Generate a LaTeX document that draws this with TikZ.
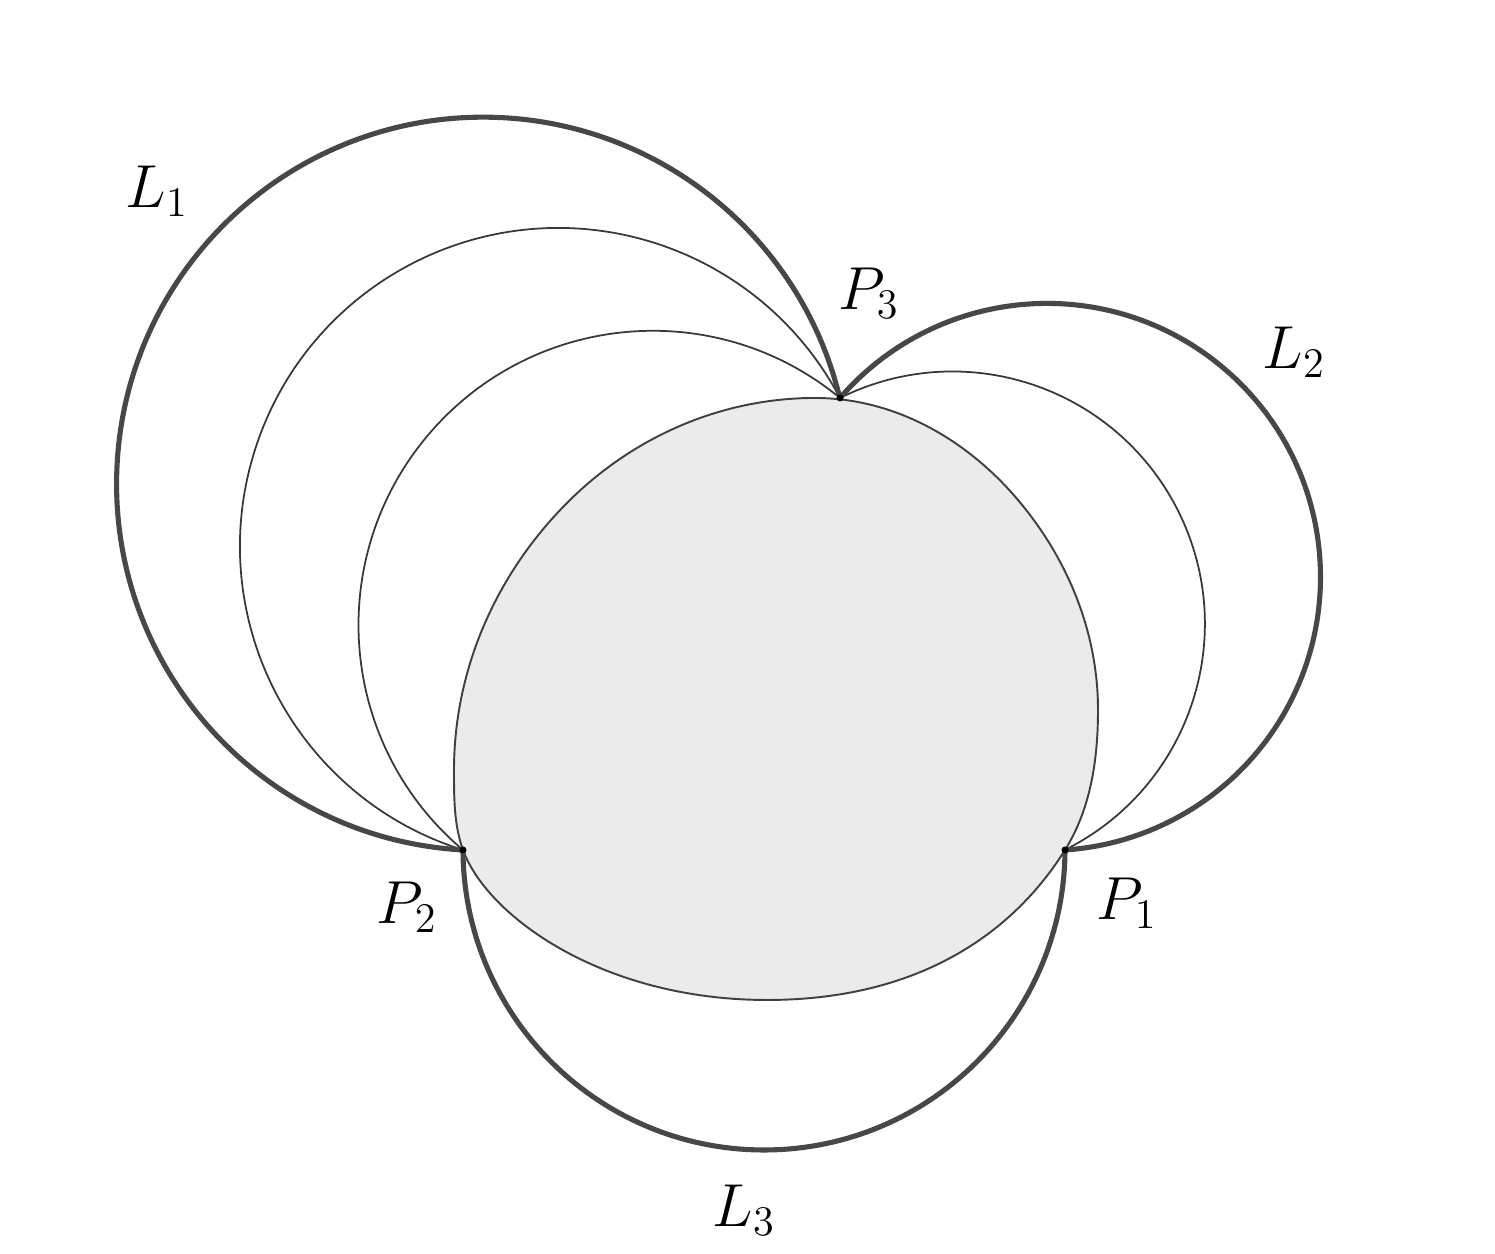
\documentclass[tikz,border=0pt]{standalone}
\begin{document}
\begin{tikzpicture}[
  thickarc/.style={line width=1.45pt, draw=black!72},
  thinarc/.style={line width=0.5pt, draw=black!78},
  disk/.style={fill=black!8, draw=black!75, line width=0.55pt},
  lbl/.style={inner sep=0pt, font=\fontsize{17.5}{20}\selectfont},
  pt/.style={fill=black, draw=none}
]
\useasboundingbox (0,0) rectangle (14.95,12.54);

% key points
\coordinate (P1) at (10.65,4.04);
\coordinate (P2) at (4.63,4.04);
\coordinate (P3) at (8.40,8.56);
% helper points on the shaded region
\coordinate (A0) at (8.15,8.56);
\coordinate (A1) at (10.18,7.54);
\coordinate (A2) at (10.98,5.44);
\coordinate (A4) at (7.67,2.54);
\coordinate (A6) at (4.54,4.84);
\coordinate (A7) at (5.70,7.54);

% shaded region
\path[disk] (A0) .. controls (8.945,8.56) and (9.667,8.147) .. (A1)
  .. controls (10.68,6.948) and (10.98,6.215) .. (A2)
  .. controls (10.98,4.951) and (10.909,4.455) .. (P1)
  .. controls (10.12,3.192) and (9.17,2.54) .. (A4)
  .. controls (6.02,2.54) and (4.869,3.382) .. (P2)
  .. controls (4.538,4.294) and (4.54,4.57) .. (A6)
  .. controls (4.54,5.86) and (4.973,6.825) .. (A7)
  .. controls (6.356,8.185) and (7.23,8.56) .. (A0) -- cycle;

% thin circles
\draw[thinarc] (P2) arc[start angle=252.58, end angle=27.77, radius=3.183];
\draw[thinarc] (P2) arc[start angle=229.84, end angle=50.51, radius=2.943];
\draw[thinarc] (P3) arc[start angle=116.46, end angle=-63.54, radius=2.524];

% thick arcs L1, L2, L3
\draw[thickarc] (P2) arc[start angle=266.83, end angle=13.51, radius=3.667];
\draw[thickarc] (P3) arc[start angle=139.13, end angle=-86.21, radius=2.736];
\draw[thickarc] (P2) arc[start angle=180.19, end angle=359.81, radius=3.01];

% points
\fill[pt] (P1) circle[radius=0.035];
\fill[pt] (P2) circle[radius=0.035];
\fill[pt] (P3) circle[radius=0.035];

% labels
\node[lbl] (l1) at (1.57,10.63) {$L_1$};
\node[lbl] (l2) at (12.94,9.02) {$L_2$};
\node[lbl] (l3) at (7.44,0.44) {$L_3$};
\node[lbl] (p1) at (11.27,3.51) {$P_1$};
\node[lbl] (p2) at (4.07,3.47) {$P_2$};
\node[lbl] (p3) at (8.69,9.61) {$P_3$};
\end{tikzpicture}
\end{document}
